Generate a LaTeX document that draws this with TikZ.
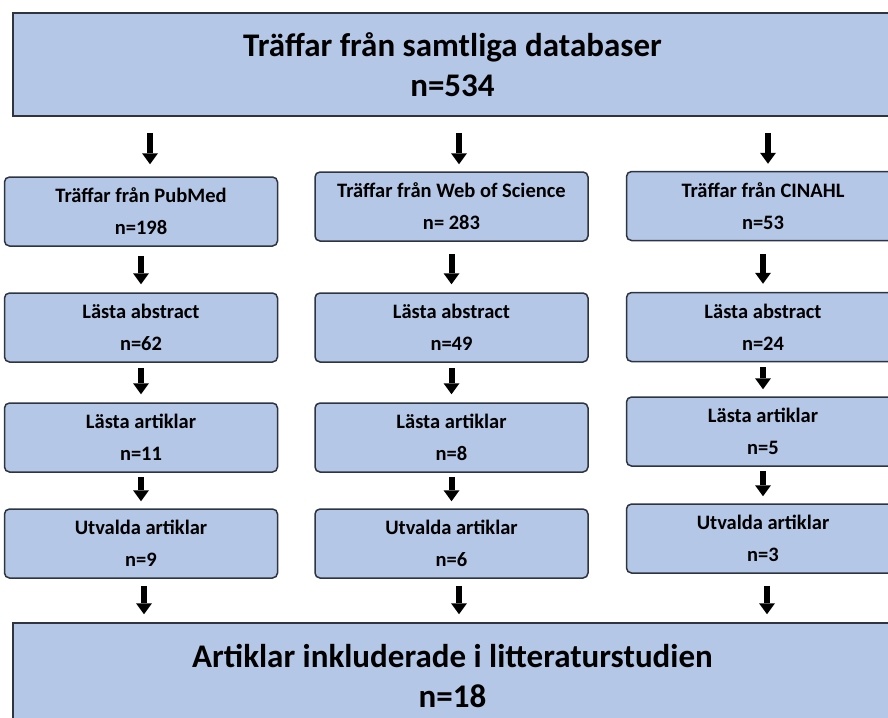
\documentclass[tikz,border=0pt]{standalone}
\usepackage{fontspec}
\setmainfont{Carlito}
\usetikzlibrary{arrows.meta}
\definecolor{boxblue}{HTML}{B4C7E7}
\definecolor{boxline}{HTML}{2E3440}

\begin{document}
\begin{tikzpicture}[x=1pt,y=-1pt,>={Triangle[width=16pt,length=11pt,line width=0pt]},
  box/.style={draw=boxline,fill=boxblue,line width=1.5pt,rounded corners=5pt,minimum width=273pt,minimum height=69pt,inner sep=0pt,align=center,font=\fontsize{20.5}{32}\selectfont\bfseries},
  bigbox/.style={draw=boxline,fill=boxblue,line width=1.5pt,minimum width=879pt,inner sep=0pt,align=center,font=\fontsize{33}{40}\selectfont\bfseries},
  arr/.style={->,line width=6pt,shorten <=5pt,shorten >=8pt}]
\useasboundingbox (0,0) rectangle (888,717);
\clip (0,0) rectangle (888,717);
\node[bigbox,minimum height=103pt] (all) at (452.5,64.5) {Träffar från samtliga databaser\\n=534};

\node[box] (p1) at (141,211.5) {Träffar från PubMed\\n=198};
\node[box] (p2) at (141,327.5) {Lästa abstract\\n=62};
\node[box] (p3) at (141,437.5) {Lästa artiklar\\n=11};
\node[box] (p4) at (141,543.5) {Utvalda artiklar\\n=9};

\node[box] (w1) at (451.5,206.5) {Träffar från Web of Science\\n= 283};
\node[box] (w2) at (451.5,327.5) {Lästa abstract\\n=49};
\node[box] (w3) at (451.5,437.5) {Lästa artiklar\\n=8};
\node[box] (w4) at (451.5,543.5) {Utvalda artiklar\\n=6};

\node[box] (c1) at (763,206) {Träffar från CINAHL\\n=53};
\node[box] (c2) at (763,327) {Lästa abstract\\n=24};
\node[box] (c3) at (763,431.5) {Lästa artiklar\\n=5};
\node[box] (c4) at (763,538.5) {Utvalda artiklar\\n=3};

\node[bigbox,minimum height=97pt] (res) at (452.5,671.5) {\rule{0pt}{33pt}Artiklar inkluderade i litteraturstudien\\n=18};

\coordinate (t1) at ([xshift=9pt]p1.north);
\coordinate (t2) at ([xshift=7.5pt]w1.north);
\coordinate (t3) at ([xshift=5pt]c1.north);
\draw[arr,shorten <=16pt,shorten >=12pt] (all.south -| t1) -- (t1);
\draw[arr,shorten <=16pt,shorten >=7pt] (all.south -| t2) -- (t2);
\draw[arr,shorten <=16pt,shorten >=7pt] (all.south -| t3) -- (t3);

\draw[arr,shorten <=9pt] (p1) -- (p2);
\draw[arr,shorten <=12pt] (w1) -- (w2);
\draw[arr,shorten <=13pt] (c1) -- (c2);
\draw[arr] (p2) -- (p3);
\draw[arr] (w2) -- (w3);
\draw[arr,shorten >=7pt] (c2) -- (c3);
\draw[arr,shorten <=4pt,shorten >=7pt] (p3) -- (p4);
\draw[arr,shorten <=4pt,shorten >=7pt] (w3) -- (w4);
\draw[arr,shorten <=4pt,shorten >=7pt] (c3) -- (c4);

\coordinate (f1) at ([xshift=3pt]p4.south);
\coordinate (f2) at ([xshift=7.5pt]w4.south);
\coordinate (f3) at ([xshift=4pt]c4.south);
\draw[arr,shorten <=7pt] (f1) -- (f1 |- res.north);
\draw[arr,shorten <=7pt] (f2) -- (f2 |- res.north);
\draw[arr,shorten <=12pt] (f3) -- (f3 |- res.north);
\end{tikzpicture}
\end{document}
